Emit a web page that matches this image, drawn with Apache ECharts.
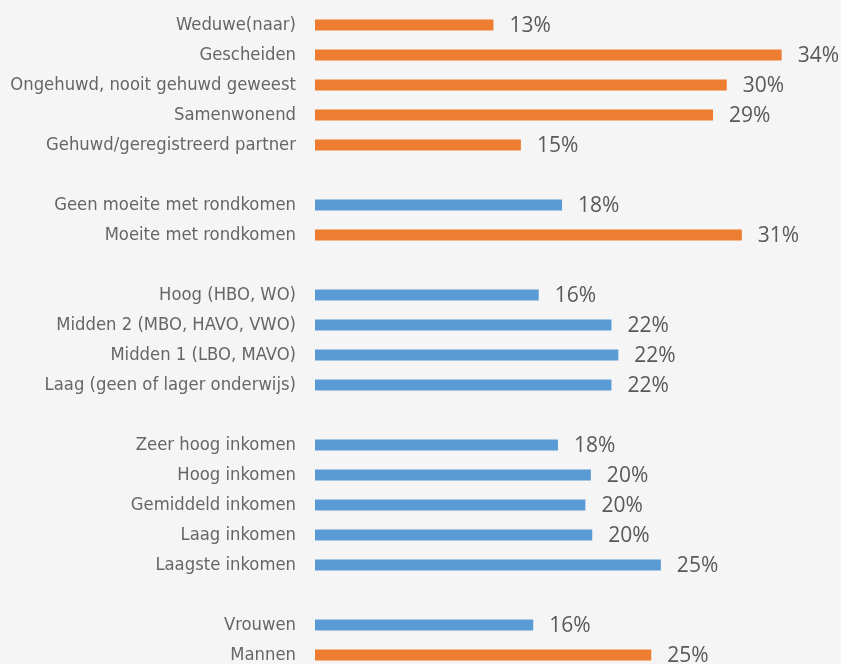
<!DOCTYPE html>
<html>
<head>
<meta charset="utf-8">
<script src="https://cdn.jsdelivr.net/npm/echarts@6/dist/echarts.min.js"></script>
<style>
  html, body { margin: 0; padding: 0; background: #f5f5f5; overflow: hidden; }
  #chart { width: 841px; height: 664px; }
</style>
</head>
<body>
<div id="chart"></div>
<script>
// categorieen van boven naar onder, lege strings zijn witruimte tussen de groepen
const categories = [
  'Weduwe(naar)', 'Gescheiden', 'Ongehuwd, nooit gehuwd geweest', 'Samenwonend', 'Gehuwd/geregistreerd partner',
  ' ',
  'Geen moeite met rondkomen', 'Moeite met rondkomen',
  '  ',
  'Hoog (HBO, WO)', 'Midden 2 (MBO, HAVO, VWO)', 'Midden 1 (LBO, MAVO)', 'Laag (geen of lager onderwijs)',
  '   ',
  'Zeer hoog inkomen', 'Hoog inkomen', 'Gemiddeld inkomen', 'Laag inkomen', 'Laagste inkomen',
  '    ',
  'Vrouwen', 'Mannen'
]
// oranje = hoogste groep, blauw = overige
const orangeValues = [13.0, 34.0, 30.0, 29.0, 15.0, '-', '-', 31.1, '-', '-', '-', '-', '-', '-', '-', '-', '-', '-', '-', '-', '-', 24.5]
const blueValues = ['-', '-', '-', '-', '-', '-', 18.0, '-', '-', 16.3, 21.6, 22.1, 21.6, '-', 17.7, 20.1, 19.7, 20.2, 25.2, '-', 15.9, '-']

const chart = echarts.init(document.getElementById('chart'))

const valueLabel = {
  show: true,
  position: 'right',
  distance: 16,
  offset: [0, 1],
  color: '#595959',
  fontSize: 21,
  fontFamily: "'Open Sans', 'Noto Sans', sans-serif",
  formatter: function (p) {
    return Math.round(p.value) + '%'
  }
}

chart.setOption({
  backgroundColor: '#f5f5f5',
  animation: false,
  grid: {
    left: 315,
    top: 10,
    width: 549,
    height: 660,
    outerBoundsMode: 'none'
  },
  xAxis: {
    type: 'value',
    min: 0,
    max: 40,
    show: false
  },
  yAxis: {
    type: 'category',
    inverse: true,
    data: categories,
    axisLine: { show: false },
    axisTick: { show: false },
    axisLabel: {
      margin: 19,
      color: '#666666',
      fontSize: 18.3,
      fontFamily: "'DejaVu Sans Condensed', sans-serif"
    }
  },
  series: [
    {
      name: 'oranje',
      type: 'bar',
      data: orangeValues,
      barWidth: 11,
      barGap: '-100%',
      itemStyle: { color: '#ed7d31' },
      label: valueLabel
    },
    {
      name: 'blauw',
      type: 'bar',
      data: blueValues,
      barWidth: 11,
      barGap: '-100%',
      itemStyle: { color: '#5b9bd5' },
      label: valueLabel
    }
  ]
})
</script>
</body>
</html>
